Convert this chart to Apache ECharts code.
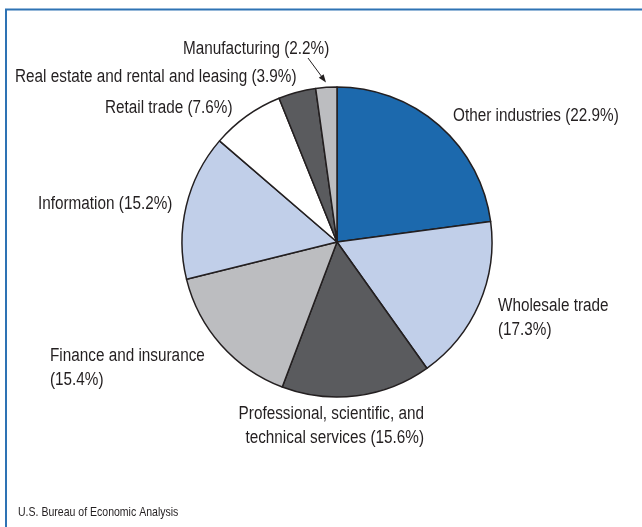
<!DOCTYPE html>
<html>
<head>
<meta charset="utf-8">
<script src="https://cdn.jsdelivr.net/npm/echarts@6/dist/echarts.min.js"></script>
<style>
  html, body { margin: 0; padding: 0; background: #ffffff; }
  #chart { width: 642px; height: 527px; }
</style>
</head>
<body>
<div id="chart"></div>
<script>
// Industry shares, clockwise from 12 o'clock
const industries = [
  'Other industries',
  'Wholesale trade',
  'Professional, scientific, and technical services',
  'Finance and insurance',
  'Information',
  'Retail trade',
  'Real estate and rental and leasing',
  'Manufacturing'
];
const shares = [22.9, 17.3, 15.6, 15.4, 15.2, 7.6, 3.9, 2.2];
const source = 'U.S. Bureau of Economic Analysis';

const sliceColors = ['#1c69ad', '#c1cfe9', '#5a5b5e', '#bcbdc0', '#c1cfe9', '#ffffff', '#5a5b5e', '#bcbdc0'];

const FONT = '"Liberation Sans", Arial, sans-serif';
const INK = '#231f20';
const CONDENSE = 0.85;   // horizontal squeeze giving a condensed face

// Label text: where each label wraps
function labelText(name, value) {
  const pct = '(' + value + '%)';
  if (name === 'Wholesale trade' || name === 'Finance and insurance') return name + '\n' + pct;
  if (name.startsWith('Professional')) return 'Professional, scientific, and\ntechnical services ' + pct;
  return name + ' ' + pct;
}

// Where each label sits on the page (anchor x, top y)
const labelPlace = {
  'Other industries': { x: 453, y: 104, align: 'left' },
  'Wholesale trade': { x: 498, y: 294, align: 'left' },
  'Professional, scientific, and technical services': { x: 424, y: 402, align: 'right' },
  'Finance and insurance': { x: 50, y: 344, align: 'left' },
  'Information': { x: 38, y: 192, align: 'left' },
  'Retail trade': { x: 105, y: 96, align: 'left' },
  'Real estate and rental and leasing': { x: 15, y: 65, align: 'left' },
  'Manufacturing': { x: 183, y: 37, align: 'left' }
};

const chart = echarts.init(document.getElementById('chart'), null, { renderer: 'canvas' });

chart.setOption({
  animation: false,
  backgroundColor: '#ffffff',
  series: [{
    type: 'pie',
    center: [337, 242],
    radius: [0, 155],
    startAngle: 90,
    clockwise: true,
    avoidLabelOverlap: false,
    data: industries.map((n, i) => ({
      name: n,
      value: shares[i],
      itemStyle: { color: sliceColors[i] }
    })),
    itemStyle: { borderColor: INK, borderWidth: 1.5 },
    emphasis: { disabled: true },
    label: {
      show: true,
      position: 'outside',
      formatter: p => labelText(p.name, p.value),
      fontFamily: FONT,
      fontSize: 18,
      lineHeight: 24,
      color: INK
    },
    labelLine: { show: false },
    labelLayout: function (params) {
      const pl = labelPlace[industries[params.dataIndex]];
      return { x: pl.x, y: pl.y, align: pl.align, verticalAlign: 'top' };
    }
  }],
  graphic: [
    { id: 'frameTop', type: 'line', shape: { x1: 5, y1: 9.5, x2: 642, y2: 9.5 }, style: { stroke: '#2e73b4', lineWidth: 2 }, silent: true },
    { id: 'frameLeft', type: 'line', shape: { x1: 6, y1: 9, x2: 6, y2: 527 }, style: { stroke: '#2e73b4', lineWidth: 2 }, silent: true },
    {
      id: 'source', type: 'text', x: 18, y: 512, scaleX: 0.81, silent: true,
      style: { text: source, font: '13px ' + FONT, fill: INK, textVerticalAlign: 'middle' }
    }
  ]
});

// Arrow pointing from the Manufacturing label to its slice
(function drawArrow() {
  const data = chart.getModel().getSeriesByIndex(0).getData();
  const idx = industries.indexOf('Manufacturing');
  const lay = data.getItemLayout(idx);
  const mid = (lay.startAngle + lay.endAngle) / 2;
  const tipR = lay.r + 5;
  const tip = [lay.cx + Math.cos(mid) * tipR, lay.cy + Math.sin(mid) * tipR];
  const tail = [labelPlace['Manufacturing'].x + 125, labelPlace['Manufacturing'].y + 21];
  const dx = tip[0] - tail[0], dy = tip[1] - tail[1];
  const len = Math.sqrt(dx * dx + dy * dy);
  const ux = dx / len, uy = dy / len;
  const headL = 8, headW = 3;
  const base = [tip[0] - ux * headL, tip[1] - uy * headL];
  chart.setOption({
    graphic: [
      { id: 'arrowLine', type: 'line', shape: { x1: tail[0], y1: tail[1], x2: base[0], y2: base[1] }, style: { stroke: INK, lineWidth: 1 }, silent: true },
      {
        id: 'arrowHead', type: 'polygon', silent: true,
        shape: { points: [tip, [base[0] - uy * headW, base[1] + ux * headW], [base[0] + uy * headW, base[1] - ux * headW]] },
        style: { fill: INK }
      }
    ]
  });
})();

// Squeeze the slice labels horizontally about their anchor
(function condenseLabels() {
  const data = chart.getModel().getSeriesByIndex(0).getData();
  for (let i = 0; i < industries.length; i++) {
    const el = data.getItemGraphicEl(i);
    const txt = el && el.getTextContent();
    if (txt) {
      txt.scaleX = CONDENSE;
      txt.markRedraw();
    }
  }
  chart.getZr().refreshImmediately();
})();
</script>
</body>
</html>
